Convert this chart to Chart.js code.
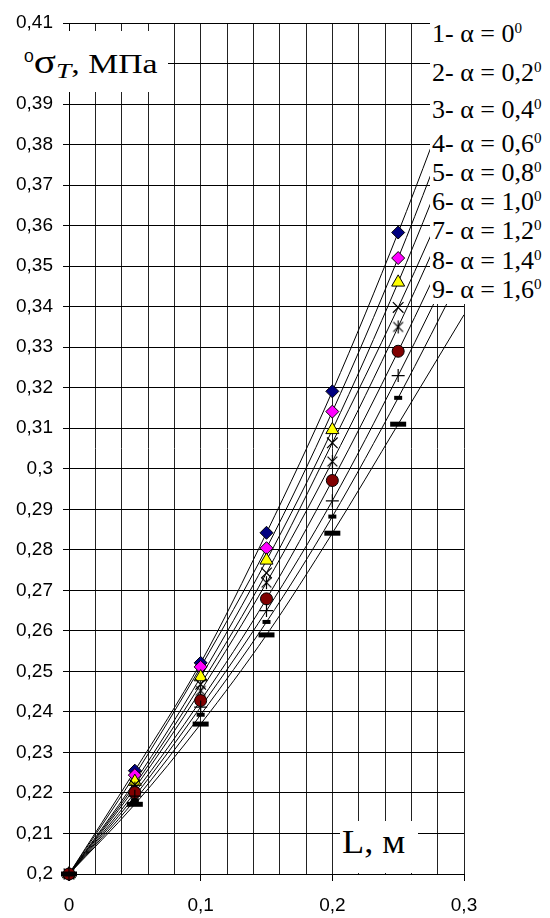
<!DOCTYPE html>
<html>
<head>
<meta charset="utf-8">
<script src="https://cdn.jsdelivr.net/npm/chart.js@4.4.1/dist/chart.umd.min.js"></script>
<style>
    body { margin: 0; background: #fff; overflow: hidden; }
    #wrap { position: relative; width: 550px; height: 918px; overflow: hidden; }
    .box { position: absolute; background: #fff; }
    .serif { position: absolute; font-family: 'Liberation Serif', 'Times New Roman', serif; color: #000; white-space: nowrap; line-height: 1; }
    .leg { left: 432px; font-size: 26px; }
    .sup { position: relative; top: -0.62em; font-size: 0.58em; }
</style>
</head>
<body>
<div id="wrap">
    <canvas id="chart" width="550" height="918"></canvas>
    <div class="box" style="left:20px; top:31px; width:148px; height:61px;"></div>
    <div class="serif" id="ylabel" style="left:24px; top:46px; font-size:27px; transform:scaleX(1.25); transform-origin:left top;"><span style="font-family:'Liberation Sans'; font-size:14px; position:relative; top:-11px;">0</span><span style="font-size:33px;">σ</span><i style="font-size:22px; position:relative; top:5px;">T</i>, МПа</div>
    <div class="box" style="left:430px; top:12px; width:120px; height:292px;"></div>
    <div id="legend"></div>
    <div class="box" style="left:340px; top:821px; width:78px; height:52px;"></div>
    <div class="serif" style="left:342px; top:826px; font-size:33px; transform:scaleX(1.1); transform-origin:left top;">L, м</div>
</div>
<script>
// Abscisses des mesures (L, m)
const lengths = [0, 0.05, 0.1, 0.15, 0.2, 0.25];

// Valeurs (σT, MPa) pour chaque angle α
const s1 = [0.2, 0.2255, 0.2521, 0.2842, 0.3191, 0.3583];
const s2 = [0.2, 0.2244, 0.2511, 0.2804, 0.3141, 0.3520];
const s3 = [0.2, 0.2228, 0.2486, 0.2774, 0.3096, 0.3460];
const s4 = [0.2, 0.2220, 0.2468, 0.2743, 0.3064, 0.3398];
const s5 = [0.2, 0.2212, 0.2452, 0.2719, 0.3018, 0.3350];
const s6 = [0.2, 0.2201, 0.2428, 0.2679, 0.2971, 0.3290];
const s7 = [0.2, 0.2192, 0.2412, 0.2650, 0.2921, 0.3230];
const s8 = [0.2, 0.2182, 0.2393, 0.2622, 0.2882, 0.3175];
const s9 = [0.2, 0.2172, 0.2370, 0.2590, 0.2841, 0.3110];

// Fin des courbes de tendance, lue au bord droit (L = 0,3)
const trendX = 0.3;
const trendEnd = [0.401, 0.394, 0.386, 0.376, 0.371, 0.363, 0.356, 0.349, 0.338];

// Légende et graduations
const seriesNums = ['1', '2', '3', '4', '5', '6', '7', '8', '9'];
const alphaValues = ['0', '0,2', '0,4', '0,6', '0,8', '1,0', '1,2', '1,4', '1,6'];
const xMajorTicks = [0, 0.1, 0.2, 0.3];

const allSeries = [s1, s2, s3, s4, s5, s6, s7, s8, s9];

// Astérisque à 6 branches (marqueur de la série 5)
function makeAsterisk(size) {
    const c = document.createElement('canvas');
    c.width = size;
    c.height = size;
    const g = c.getContext('2d');
    const m = size / 2;
    const r = size / 2 - 1;
    g.strokeStyle = '#000';
    g.lineWidth = 1.2;
    g.beginPath();
    g.moveTo(m - r * 0.75, m - r * 0.75); g.lineTo(m + r * 0.75, m + r * 0.75);
    g.moveTo(m + r * 0.75, m - r * 0.75); g.lineTo(m - r * 0.75, m + r * 0.75);
    g.moveTo(m, m - r); g.lineTo(m, m + r);
    g.stroke();
    return c;
}

// Styles des marqueurs, dans l'ordre des séries
const markerStyles = [
    { pointStyle: 'rectRot', radius: 6.5, bg: '#000080', border: '#000', bw: 1 },
    { pointStyle: 'rectRot', radius: 6.5, bg: '#FF00FF', border: '#000', bw: 1 },
    { pointStyle: 'triangle', radius: 7.5, bg: '#FFFF00', border: '#000', bw: 1 },
    { pointStyle: 'crossRot', radius: 7.5, bg: '#000', border: '#000', bw: 1.2 },
    { pointStyle: makeAsterisk(15), radius: 7, bg: '#000', border: '#000', bw: 1 },
    { pointStyle: 'circle', radius: 6, bg: '#800000', border: '#000', bw: 1 },
    { pointStyle: 'cross', radius: 6.5, bg: '#000', border: '#000', bw: 1.2 },
    { pointStyle: 'line', radius: 4, bg: '#000', border: '#000', bw: 4 },
    { pointStyle: 'line', radius: 8, bg: '#000', border: '#000', bw: 5 }
];

function formatComma(v, digits) {
    const r = Math.round(v * Math.pow(10, digits)) / Math.pow(10, digits);
    return r.toString().replace('.', ',');
}

function isMajorX(v) {
    return xMajorTicks.some(t => Math.abs(t - v) < 1e-6);
}

// Construire les jeux de données : courbes de tendance puis marqueurs
const datasets = [];
allSeries.forEach((values, i) => {
    const pts = lengths.map((x, k) => ({ x: x, y: values[k] }));
    datasets.push({
        label: 'tendance ' + seriesNums[i],
        data: pts.concat([{ x: trendX, y: trendEnd[i] }]),
        showLine: true,
        borderColor: '#000',
        borderWidth: 1,
        pointRadius: 0,
        cubicInterpolationMode: 'monotone',
        order: 200
    });
});
allSeries.forEach((values, i) => {
    const st = markerStyles[i];
    datasets.push({
        label: seriesNums[i] + '- α = ' + alphaValues[i],
        data: lengths.map((x, k) => ({ x: x, y: values[k] })),
        showLine: false,
        clip: false,
        pointStyle: st.pointStyle,
        pointRadius: st.radius,
        pointBackgroundColor: st.bg,
        pointBorderColor: st.border,
        pointBorderWidth: st.bw,
        order: 100 - i
    });
});

// Légende en HTML
const legendTops = [21, 60, 97, 131, 160, 189, 218, 248, 277];
const legend = document.getElementById('legend');
seriesNums.forEach((n, i) => {
    const d = document.createElement('div');
    d.className = 'serif leg';
    d.style.top = legendTops[i] + 'px';
    d.innerHTML = n + '- α = ' + alphaValues[i] + '<span class="sup">0</span>';
    legend.appendChild(d);
});

const ctx = document.getElementById('chart').getContext('2d');
new Chart(ctx, {
    type: 'scatter',
    data: { datasets: datasets },
    options: {
        responsive: false,
        animation: false,
        layout: { padding: { top: 23, right: 86, bottom: 0, left: 0 } },
        plugins: {
            legend: { display: false },
            tooltip: { enabled: false }
        },
        scales: {
            x: {
                type: 'linear',
                min: 0,
                max: 0.3,
                afterFit: function(scale) { scale.height = 44; },
                border: { color: '#000', width: 1 },
                grid: {
                    color: '#222',
                    lineWidth: 1,
                    tickLength: 7,
                    tickColor: function(c) {
                        return c.tick && isMajorX(c.tick.value) ? '#000' : 'rgba(0,0,0,0)';
                    }
                },
                ticks: {
                    stepSize: 0.02,
                    autoSkip: false,
                    maxRotation: 0,
                    padding: 13,
                    color: '#000',
                    font: { family: "'Liberation Sans', Arial, sans-serif", size: 19 },
                    callback: function(value) {
                        return isMajorX(value) ? formatComma(value, 1) : '';
                    }
                }
            },
            y: {
                type: 'linear',
                min: 0.2,
                max: 0.41,
                afterFit: function(scale) { scale.width = 69; },
                border: { color: '#000', width: 1 },
                grid: {
                    color: '#000',
                    lineWidth: 1,
                    tickLength: 6,
                    tickColor: '#000'
                },
                ticks: {
                    stepSize: 0.01,
                    autoSkip: false,
                    padding: 10,
                    color: '#000',
                    font: { family: "'Liberation Sans', Arial, sans-serif", size: 19 },
                    callback: function(value) {
                        return formatComma(value, 2);
                    }
                }
            }
        }
    }
});
</script>
</body>
</html>
